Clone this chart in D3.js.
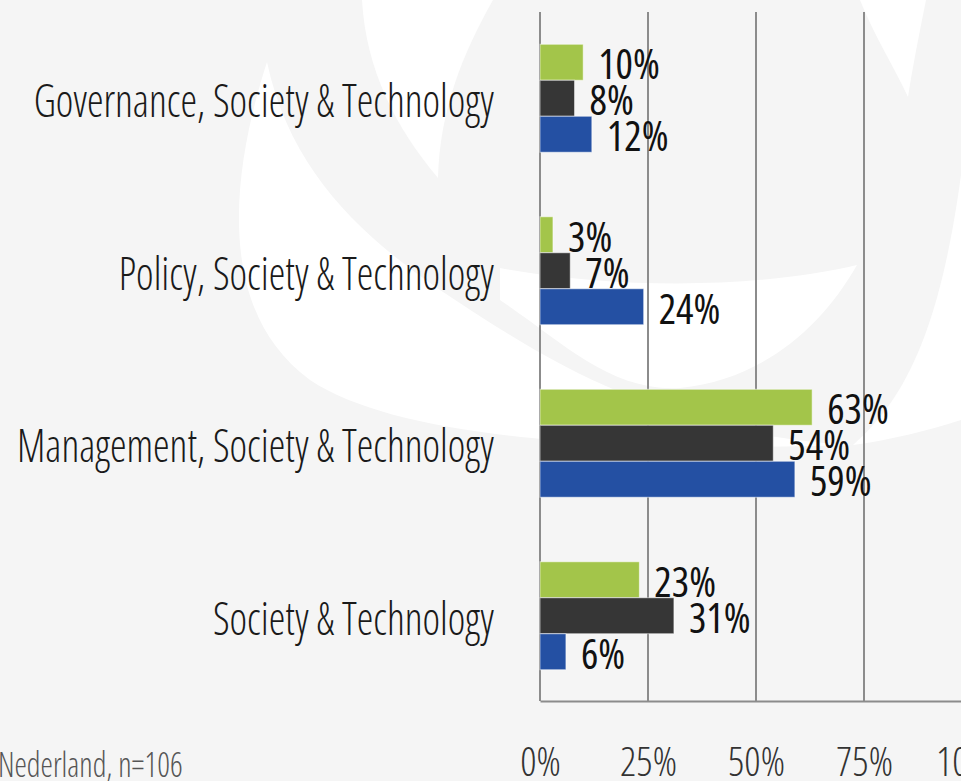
<!DOCTYPE html>
<html lang="en">
<head>
    <meta charset="UTF-8">
    <title>Society &amp; Technology</title>
    <script src="https://d3js.org/d3.v7.min.js"></script>
    <style>
        body {
            margin: 0;
            background-color: #f5f5f5;
            overflow: hidden;
        }

        svg text {
            font-family: "Open Sans", "Liberation Sans Narrow", sans-serif;
            font-stretch: 75%;
        }

        .cat-label {
            font-size: 46px;
            font-weight: 300;
            fill: #1a1a1a;
        }

        .value-label {
            font-size: 41px;
            font-weight: 500;
            fill: #111;
        }

        .tick text {
            font-size: 40px;
            font-weight: 300;
            fill: #333;
        }

        .note {
            font-size: 34px;
            font-weight: 300;
            fill: #555;
        }
    </style>
</head>
<body>
    <div id="chart"></div>

    <script>
        // Data
        const categories = [
            "Governance, Society & Technology",
            "Policy, Society & Technology",
            "Management, Society & Technology",
            "Society & Technology"
        ];
        const seriesNames = ["Serie 1", "Serie 2", "Serie 3"];
        const greenValues = [0.10, 0.03, 0.63, 0.23];
        const darkValues = [0.08, 0.07, 0.54, 0.31];
        const blueValues = [0.12, 0.24, 0.59, 0.06];
        const tickValues = [0, 0.25, 0.5, 0.75, 1];
        const noteText = "Nederland, n=106";

        const colors = ["#a3c54a", "#363636", "#2450a3"];
        const seriesValues = [greenValues, darkValues, blueValues];

        const width = 961;
        const height = 781;

        const svg = d3.select("#chart").append("svg")
            .attr("width", width)
            .attr("height", height);

        // Background with the faint watermark swirl
        svg.append("rect")
            .attr("width", width)
            .attr("height", height)
            .attr("fill", "#f5f5f5");

        const swirl = svg.append("g").attr("fill", "#ffffff");
        swirl.append("path")
            .attr("d", "M362,0 C366,70 396,128 438,178 C440,110 462,55 493,0 Z");
        swirl.append("path")
            .attr("d", "M860,0 C874,35 893,65 908,97 C913,65 920,30 926,0 Z");
        swirl.append("path")
            .attr("d", "M267,62 C232,170 214,310 310,380 C400,440 620,452 853,445 " +
                       "C760,440 690,420 620,392 C560,368 500,330 440,290 " +
                       "C360,235 290,170 267,62 Z");
        swirl.append("path")
            .attr("d", "M500,268 C620,290 760,288 857,265 " +
                       "C820,330 760,380 680,388 C610,392 560,340 500,300 Z");
        swirl.append("path")
            .attr("d", "M853,445 C905,400 940,330 961,175 L961,420 C930,430 890,440 853,445 Z");

        // Scales
        const x = d3.scaleLinear()
            .domain([0, 1])
            .range([540, 972]);

        const y = d3.scaleBand()
            .domain(categories)
            .range([12, 702])
            .paddingInner(0.374)
            .paddingOuter(0.187);

        const ySub = d3.scaleBand()
            .domain(seriesNames)
            .range([0, y.bandwidth()]);

        // Vertical gridlines
        svg.append("g")
            .selectAll("line")
            .data(tickValues)
            .enter().append("line")
            .attr("x1", d => x(d))
            .attr("x2", d => x(d))
            .attr("y1", 12)
            .attr("y2", 701)
            .attr("stroke", "#8c8c8c")
            .attr("stroke-width", 2);

        // Bottom axis
        const axis = svg.append("g")
            .attr("transform", "translate(0,701)")
            .call(d3.axisBottom(x)
                .tickValues(tickValues)
                .tickFormat(d3.format(".0%"))
                .tickSize(0)
                .tickPadding(47));
        axis.select(".domain")
            .attr("stroke", "#8c8c8c")
            .attr("stroke-width", 2);
        axis.selectAll(".tick text")
            .attr("dy", "0.71em");

        // Bars
        const groups = svg.append("g")
            .selectAll("g")
            .data(categories)
            .enter().append("g")
            .attr("transform", d => `translate(0,${y(d)})`);

        groups.selectAll("rect")
            .data((d, i) => seriesNames.map((s, j) => ({ s: s, v: seriesValues[j][i], c: colors[j] })))
            .enter().append("rect")
            .attr("x", x(0))
            .attr("y", d => ySub(d.s))
            .attr("width", d => x(d.v) - x(0))
            .attr("height", ySub.bandwidth())
            .attr("fill", d => d.c)
            .attr("stroke", "rgba(255,255,255,0.55)")
            .attr("stroke-width", 1);

        groups.selectAll(".value-label")
            .data((d, i) => seriesNames.map((s, j) => ({ s: s, v: seriesValues[j][i] })))
            .enter().append("text")
            .attr("class", "value-label")
            .attr("x", d => x(d.v) + 15)
            .attr("y", d => ySub(d.s) + ySub.bandwidth() - 1)
            .text(d => d3.format(".0%")(d.v));

        // Category labels (the original face is narrower, so squeeze a little)
        svg.append("g")
            .selectAll("text")
            .data(categories)
            .enter().append("text")
            .attr("class", "cat-label")
            .attr("transform", d => `translate(494,${y(d) + y.bandwidth() / 2 + 19}) scale(0.91,1)`)
            .attr("text-anchor", "end")
            .text(d => d);

        // Source note
        svg.append("text")
            .attr("class", "note")
            .attr("transform", "translate(-2,777) scale(0.92,1)")
            .text(noteText);
    </script>
</body>
</html>
